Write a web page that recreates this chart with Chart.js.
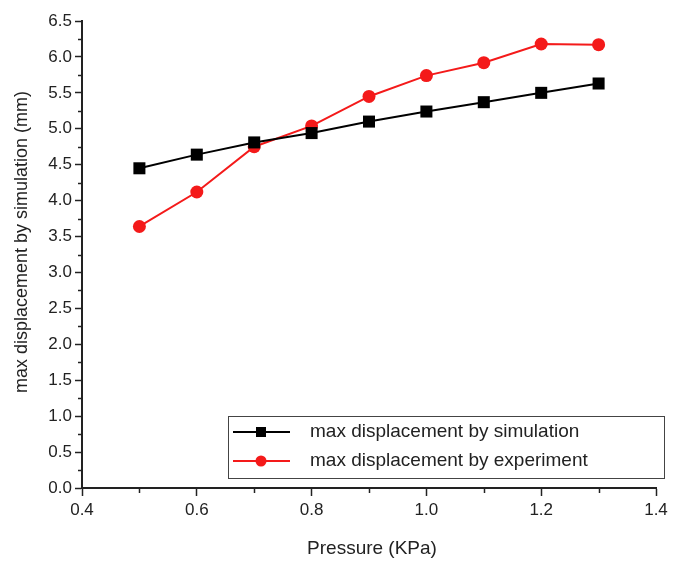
<!DOCTYPE html>
<html><head><meta charset="utf-8">
<script src="https://cdn.jsdelivr.net/npm/chart.js@4.4.1/dist/chart.umd.min.js"></script>
<style>html,body{margin:0;padding:0;background:#fff}#wrap{width:690px;height:562px}</style>
</head><body><div id="wrap"><canvas id="c" width="690" height="562"></canvas></div>
<script>
const pressure = [0.5, 0.6, 0.7, 0.8, 0.9, 1.0, 1.1, 1.2, 1.3];
const simulation = [4.45, 4.64, 4.81, 4.94, 5.10, 5.24, 5.37, 5.50, 5.63];
const experiment = [3.64, 4.12, 4.75, 5.04, 5.45, 5.74, 5.92, 6.18, 6.17];
const seriesLabels = ['max displacement by simulation', 'max displacement by experiment'];
const xTitle = 'Pressure (KPa)';
const yTitle = 'max displacement by simulation (mm)';

const FONT = "'Liberation Sans', Arial, sans-serif";

const extras = {
  id: 'extras',
  afterDraw(chart) {
    const ctx = chart.ctx;
    const xs = chart.scales.x, ys = chart.scales.y;
    ctx.save();
    ctx.strokeStyle = '#222';
    ctx.lineWidth = 1.5;
    // minor ticks
    for (let v = 0.25; v < 6.5; v += 0.5) {
      const py = Math.round(ys.getPixelForValue(v)) + 0.5;
      ctx.beginPath(); ctx.moveTo(xs.left - 4, py); ctx.lineTo(xs.left, py); ctx.stroke();
    }
    for (let v = 0.5; v < 1.4; v += 0.2) {
      const px = Math.round(xs.getPixelForValue(v)) + 0.5;
      ctx.beginPath(); ctx.moveTo(px, ys.bottom); ctx.lineTo(px, ys.bottom + 5); ctx.stroke();
    }
    // axis titles
    ctx.fillStyle = '#222';
    ctx.textAlign = 'center';
    ctx.textBaseline = 'middle';
    ctx.font = '19px ' + FONT;
    ctx.fillText(xTitle, 372, 549);
    ctx.save();
    ctx.translate(22, 242);
    ctx.rotate(-Math.PI / 2);
    ctx.font = '18px ' + FONT;
    ctx.fillText(yTitle, 0, 0);
    ctx.restore();
    // legend
    const lx = 228, ly = 416, lw = 436, lh = 62;
    ctx.fillStyle = '#fff';
    ctx.fillRect(lx, ly, lw, lh);
    ctx.strokeStyle = '#444';
    ctx.lineWidth = 1;
    ctx.strokeRect(lx + 0.5, ly + 0.5, lw, lh);
    const ds = chart.data.datasets;
    const rows = [432, 461];
    ds.forEach((d, i) => {
      const y = rows[i];
      ctx.strokeStyle = d.borderColor;
      ctx.lineWidth = 2;
      ctx.beginPath(); ctx.moveTo(233, y); ctx.lineTo(290, y); ctx.stroke();
      ctx.fillStyle = d.backgroundColor;
      if (d.pointStyle === 'rect') {
        ctx.fillRect(261 - 5, y - 5, 10, 10);
      } else {
        ctx.beginPath(); ctx.arc(261, y, 5.5, 0, Math.PI * 2); ctx.fill();
      }
      ctx.fillStyle = '#222';
      ctx.font = '19px ' + FONT;
      ctx.textBaseline = 'middle';
      ctx.textAlign = 'left';
      ctx.fillText(d.label, 310, y);
    });
    ctx.restore();
  }
};

new Chart(document.getElementById('c'), {
  type: 'line',
  data: {
    datasets: [
      {
        label: seriesLabels[0],
        data: pressure.map((x, i) => ({x, y: simulation[i]})),
        borderColor: '#000', backgroundColor: '#000',
        borderWidth: 2, pointStyle: 'rect', pointRadius: 8.5, pointHoverRadius: 8.5,
        pointBorderWidth: 0, tension: 0
      },
      {
        label: seriesLabels[1],
        data: pressure.map((x, i) => ({x, y: experiment[i]})),
        borderColor: '#f41a1a', backgroundColor: '#f41a1a',
        borderWidth: 2, pointStyle: 'circle', pointRadius: 6.5, pointHoverRadius: 6.5,
        pointBorderWidth: 0, tension: 0
      }
    ]
  },
  options: {
    responsive: false,
    animation: false,
    events: [],
    layout: { padding: { left: 8, top: 21, right: 34, bottom: 6 } },
    plugins: { legend: { display: false }, tooltip: { enabled: false } },
    scales: {
      x: {
        type: 'linear', min: 0.4, max: 1.4,
        ticks: { stepSize: 0.2, color: '#222', font: { family: FONT, size: 17 }, padding: 4,
          callback: v => v.toFixed(1) },
        grid: { drawOnChartArea: false, tickLength: 8, tickColor: '#222', tickWidth: 1.5 },
        border: { display: true, color: '#222', width: 2 },
        afterFit: s => { s.height = 562 - 488 - 6; }
      },
      y: {
        min: 0, max: 6.5,
        ticks: { stepSize: 0.5, color: '#222', font: { family: FONT, size: 17 }, padding: 3,
          callback: v => v.toFixed(1) },
        grid: { drawOnChartArea: false, tickLength: 7, tickColor: '#222', tickWidth: 1.5 },
        border: { display: true, color: '#222', width: 2 },
        afterFit: s => { s.width = 82 - 8; }
      }
    }
  },
  plugins: [extras]
});
</script></body></html>
